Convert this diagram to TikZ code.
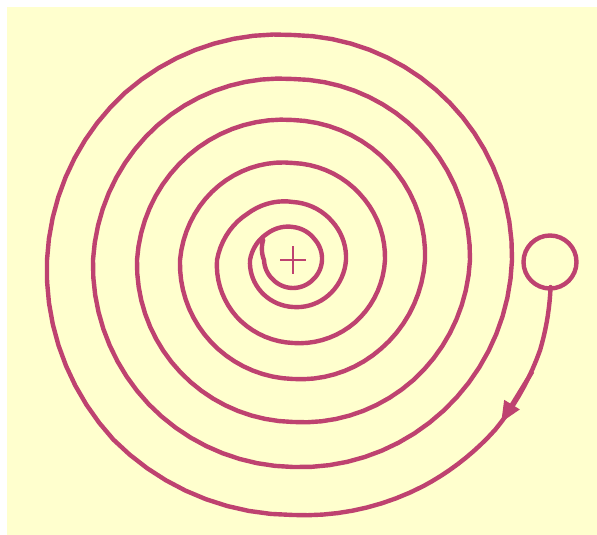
\documentclass[tikz,border=0pt]{standalone}
\usetikzlibrary{arrows.meta}
\definecolor{bgyellow}{RGB}{255,255,206}
\definecolor{spiralpink}{RGB}{190,66,112}
\tikzset{
  spiralline/.style={draw=spiralpink, line width=4.4pt, line cap=round, line join=round},
  crossline/.style={draw=spiralpink, line width=1.8pt},
  startring/.style={circle, draw=spiralpink, line width=4.4pt, minimum size=53pt, inner sep=0pt},
  tipline/.style={draw=spiralpink, line width=4.4pt, -{Triangle[length=21pt,width=17pt]}, spiralpink}
}
\begin{document}
\begin{tikzpicture}[x=1pt,y=1pt]
\useasboundingbox (0,0) rectangle (597,535);
\fill[white] (0,0) rectangle (597,535);
\fill[bgyellow] (7,0) rectangle (597,528);
% start circle
\node[startring] (S) at (550,273) {};
% centre cross
\coordinate (C) at (293,275);
\draw[crossline] ([xshift=-13pt]C) -- ([xshift=13pt]C);
\draw[crossline] ([yshift=-14pt]C) -- ([yshift=14pt]C);
% spiral
\begin{scope}[shift={(C)}]
\draw[spiralline] (S.south)
  \foreach \b/\s [remember=\b as \a (initially -6), remember=\s as \r (initially 259)] in
  {-20/263,-40/264,-60/261,-90/255,-135/254,-180/246,-225/237,-270/225,-315/222,
   -360/219,-405/213,-450/207,-495/204,-540/200,-585/191,-630/181,-675/179,
   -720/177,-765/170,-810/162,-855/159,-900/156,-945/148,-990/140,-1035/136,
   -1080/132,-1125/125,-1170/119,-1215/116,-1260/113,-1305/105,-1350/97,-1395/94,
   -1440/92,-1485/88,-1530/83,-1575/80,-1620/76,-1665/65,-1710/58,-1755/55,
   -1800/53,-1845/50,-1890/47,-1935/45,-1980/43,-2025/37,-2070/33,-2115/30,
   -2160/29,-2205/28,-2250/28,-2295/28,-2340/29,-2374/36}
  { -- plot[variable=\t, domain=\a:\b, samples=10]
      (\t:{\r+(\s-(\r))*(\t-(\a))/((\b)-(\a))}) };
\coordinate (a1) at (-25:264);
\coordinate (a2) at (-38:264);
\end{scope}
\draw[tipline] (a1) -- (a2);
\end{tikzpicture}
\end{document}
